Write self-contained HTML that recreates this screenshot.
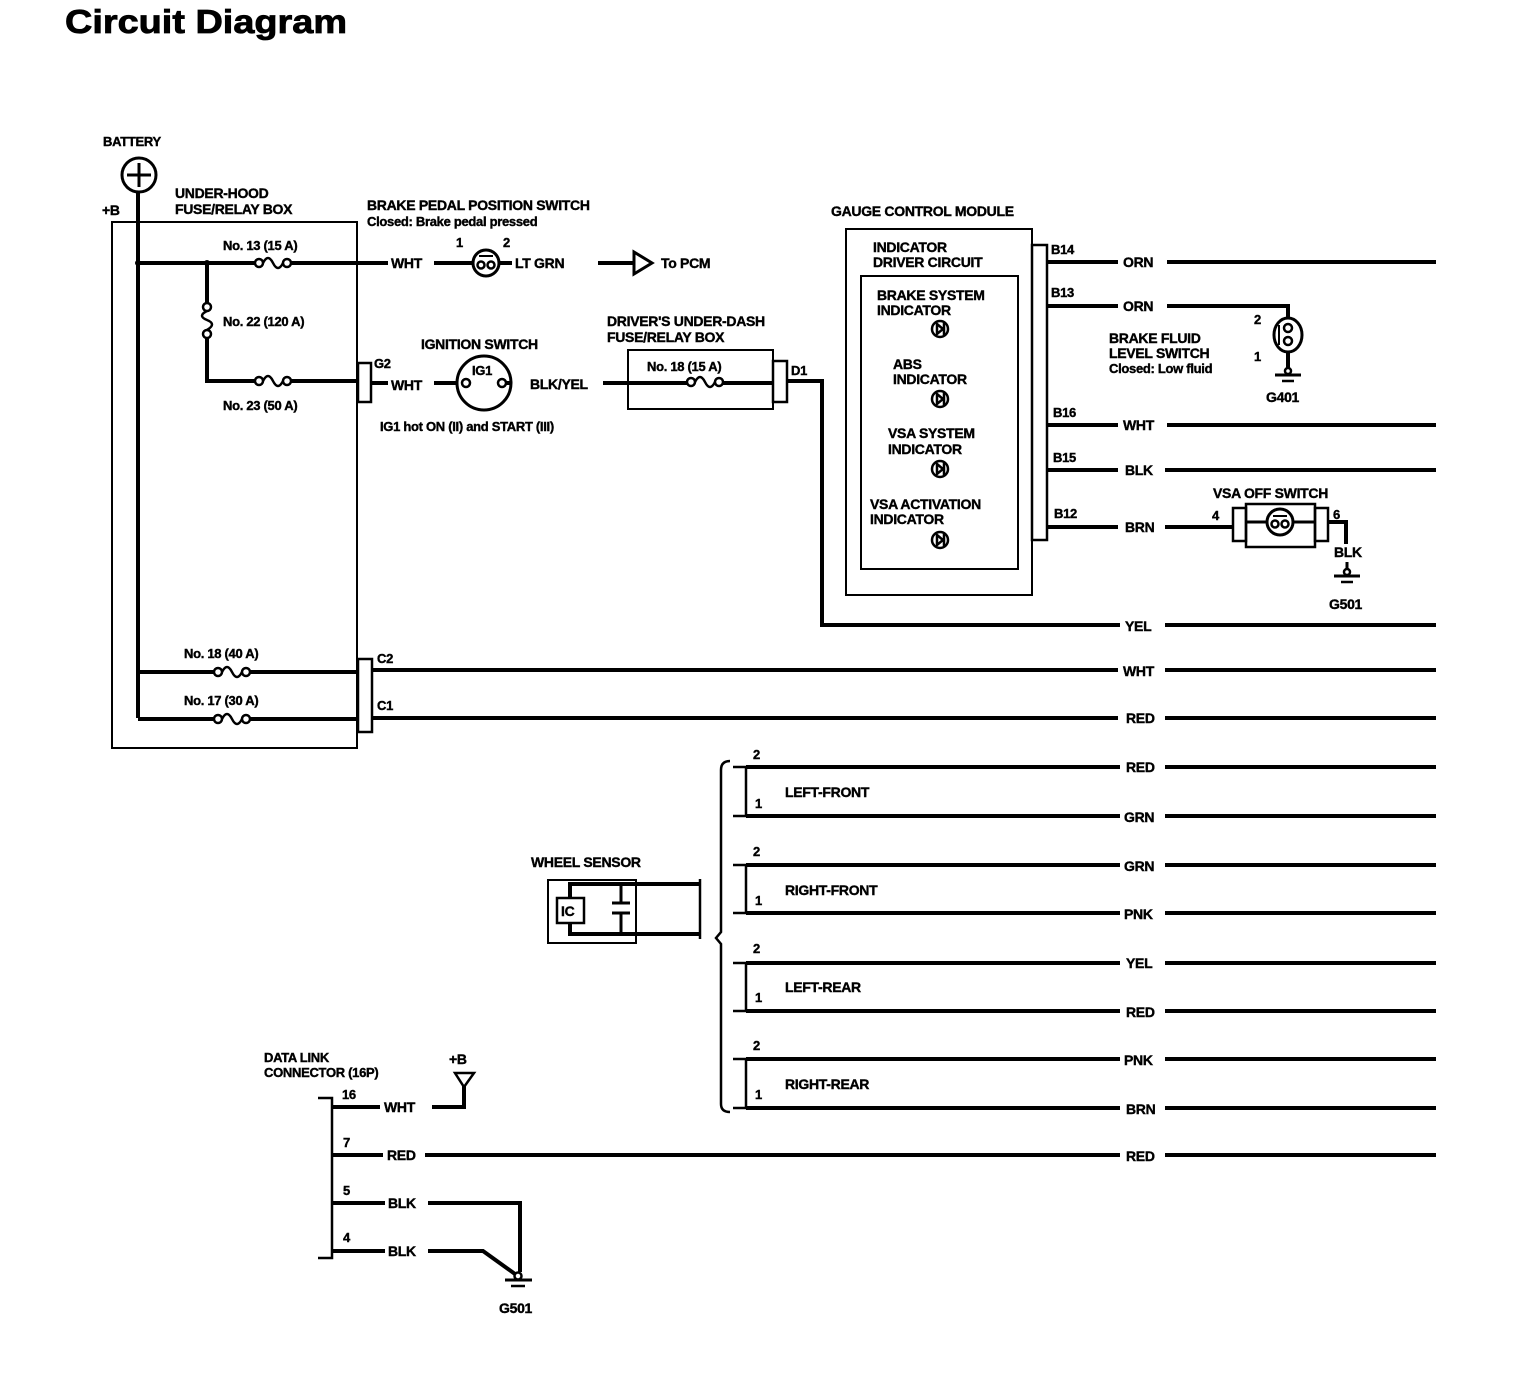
<!DOCTYPE html>
<html><head><meta charset="utf-8"><style>
html,body{margin:0;padding:0;background:#fff;}
svg{display:block;}
text{font-family:"Liberation Sans",sans-serif;font-weight:bold;fill:#000;stroke:#000;stroke-width:0.4px;}
.l{font-size:14px;letter-spacing:-0.3px;}
.s{font-size:13px;letter-spacing:-0.3px;}
</style></head><body>
<svg width="1536" height="1394" viewBox="0 0 1536 1394" xmlns="http://www.w3.org/2000/svg">
<text x="65" y="33" textLength="282" lengthAdjust="spacingAndGlyphs" style="font-size:33px;stroke-width:0.8px">Circuit Diagram</text>

<g fill="none" stroke="#000">
<circle cx="139" cy="175" r="17" stroke-width="3"/>
<line x1="139" y1="163" x2="139" y2="187" stroke-width="3"/>
<line x1="127" y1="175" x2="151" y2="175" stroke-width="3"/>
<line x1="138" y1="192" x2="138" y2="718" stroke-width="4"/>
<rect x="112" y="222" width="245" height="526" stroke-width="2"/>

<line x1="138" y1="263" x2="255" y2="263" stroke-width="4"/>
<line x1="291" y1="263" x2="388" y2="263" stroke-width="4"/>
<line x1="434" y1="263" x2="473" y2="263" stroke-width="4"/>
<line x1="499" y1="263" x2="512" y2="263" stroke-width="4"/>
<line x1="598" y1="263" x2="634" y2="263" stroke-width="4"/>
<polygon points="634,252 652,263 634,274" stroke-width="3" fill="#fff"/>
<circle cx="259" cy="263" r="4" stroke-width="2.5" fill="#fff"/>
<circle cx="287" cy="263" r="4" stroke-width="2.5" fill="#fff"/>
<path d="M263,263 Q268,253 273,263 T283,263" stroke-width="2.5"/>
<circle cx="486" cy="263" r="13" stroke-width="3" fill="#fff"/>
<circle cx="481" cy="265" r="3.5" stroke-width="2.5"/>
<circle cx="491" cy="265" r="3.5" stroke-width="2.5"/>
<line x1="479" y1="256" x2="493" y2="256" stroke-width="2"/>

<line x1="207" y1="263" x2="207" y2="303" stroke-width="4"/>
<line x1="207" y1="338" x2="207" y2="381" stroke-width="4"/>
<circle cx="207" cy="307" r="4" stroke-width="2.5" fill="#fff"/>
<circle cx="207" cy="334" r="4" stroke-width="2.5" fill="#fff"/>
<path d="M207,311 Q197,316 207,320 T207,330" stroke-width="2.5"/>
<circle cx="207" cy="263" r="2.5" fill="#000"/>
<circle cx="138" cy="263" r="2.5" fill="#000"/>

<line x1="205" y1="381" x2="255" y2="381" stroke-width="4"/>
<line x1="291" y1="381" x2="358" y2="381" stroke-width="4"/>
<circle cx="259" cy="381" r="4" stroke-width="2.5" fill="#fff"/>
<circle cx="287" cy="381" r="4" stroke-width="2.5" fill="#fff"/>
<path d="M263,381 Q268,371 273,381 T283,381" stroke-width="2.5"/>
<rect x="358" y="363" width="13" height="39" stroke-width="2.5" fill="#fff"/>
<line x1="371" y1="383" x2="388" y2="383" stroke-width="4"/>
<line x1="434" y1="383" x2="460" y2="383" stroke-width="4"/>
<circle cx="484" cy="383" r="27" stroke-width="3" fill="#fff"/>
<circle cx="466" cy="383" r="4" stroke-width="2.5"/>
<circle cx="502" cy="383" r="4" stroke-width="2.5"/>
<line x1="506" y1="383" x2="512" y2="383" stroke-width="4"/>
<line x1="603" y1="383" x2="773" y2="383" stroke-width="4"/>
<rect x="628" y="350" width="145" height="59" stroke-width="2"/>
<rect x="690" y="376" width="32" height="12" stroke="none" fill="#fff"/>
<circle cx="691" cy="382" r="4" stroke-width="2.5" fill="#fff"/>
<circle cx="719" cy="382" r="4" stroke-width="2.5" fill="#fff"/>
<path d="M695,382 Q700,372 705,382 T715,382" stroke-width="2.5"/>
<rect x="773" y="361" width="14" height="41" stroke-width="2.5" fill="#fff"/>
<polyline points="787,381 822,381 822,625 1120,625" stroke-width="4"/>
<line x1="1165" y1="625" x2="1436" y2="625" stroke-width="4"/>

<rect x="846" y="229" width="186" height="366" stroke-width="2"/>
<rect x="861" y="276" width="157" height="293" stroke-width="2"/>
<rect x="1032" y="245" width="15" height="295" stroke-width="2.5"/>
<g stroke-width="4">
<line x1="1047" y1="262" x2="1118" y2="262"/><line x1="1167" y1="262" x2="1436" y2="262"/>
<polyline points="1047,306 1118,306"/><polyline points="1167,306 1288,306 1288,322"/>
<line x1="1047" y1="425" x2="1118" y2="425"/><line x1="1167" y1="425" x2="1436" y2="425"/>
<line x1="1047" y1="470" x2="1118" y2="470"/><line x1="1165" y1="470" x2="1436" y2="470"/>
<line x1="1047" y1="527" x2="1118" y2="527"/><line x1="1165" y1="527" x2="1233" y2="527"/>
</g>
<g stroke-width="2.5">
<circle cx="940" cy="329" r="8"/><path d="M937,324 L943,329 L937,334 Z M944,323 L944,335"/>
<circle cx="940" cy="399" r="8"/><path d="M937,394 L943,399 L937,404 Z M944,393 L944,405"/>
<circle cx="940" cy="469" r="8"/><path d="M937,464 L943,469 L937,474 Z M944,463 L944,475"/>
<circle cx="940" cy="540" r="8"/><path d="M937,535 L943,540 L937,545 Z M944,534 L944,546"/>
</g>
<ellipse cx="1288" cy="335" rx="14" ry="17" stroke-width="3" fill="#fff"/>
<circle cx="1288" cy="328" r="4" stroke-width="2.5"/>
<circle cx="1288" cy="341" r="4" stroke-width="2.5"/>
<line x1="1279" y1="325" x2="1279" y2="345" stroke-width="2"/>
<line x1="1288" y1="352" x2="1288" y2="369" stroke-width="4"/>
<circle cx="1288" cy="371" r="3" stroke-width="2.5"/>
<line x1="1275" y1="375" x2="1301" y2="375" stroke-width="3"/>
<line x1="1282" y1="381" x2="1294" y2="381" stroke-width="2.5"/>
<rect x="1233" y="508" width="13" height="33" stroke-width="2.5"/>
<rect x="1246" y="504" width="69" height="43" stroke-width="2.5"/>
<rect x="1315" y="508" width="13" height="33" stroke-width="2.5"/>
<line x1="1246" y1="522" x2="1315" y2="522" stroke-width="3"/>
<circle cx="1280" cy="522" r="13" stroke-width="3" fill="#fff"/>
<circle cx="1275" cy="524" r="3.5" stroke-width="2.5"/>
<circle cx="1285" cy="524" r="3.5" stroke-width="2.5"/>
<line x1="1273" y1="516" x2="1287" y2="516" stroke-width="2"/>
<polyline points="1328,522 1346,522 1346,544" stroke-width="4"/>
<line x1="1347" y1="562" x2="1347" y2="570" stroke-width="3"/>
<circle cx="1347" cy="572" r="3" stroke-width="2.5"/>
<line x1="1334" y1="576" x2="1360" y2="576" stroke-width="3"/>
<line x1="1341" y1="582" x2="1353" y2="582" stroke-width="2.5"/>

<line x1="138" y1="672" x2="214" y2="672" stroke-width="4"/>
<line x1="250" y1="672" x2="358" y2="672" stroke-width="4"/>
<circle cx="218" cy="672" r="4" stroke-width="2.5" fill="#fff"/>
<circle cx="246" cy="672" r="4" stroke-width="2.5" fill="#fff"/>
<path d="M222,672 Q227,662 232,672 T242,672" stroke-width="2.5"/>
<line x1="138" y1="719" x2="214" y2="719" stroke-width="4"/>
<line x1="250" y1="719" x2="358" y2="719" stroke-width="4"/>
<circle cx="218" cy="719" r="4" stroke-width="2.5" fill="#fff"/>
<circle cx="246" cy="719" r="4" stroke-width="2.5" fill="#fff"/>
<path d="M222,719 Q227,709 232,719 T242,719" stroke-width="2.5"/>
<rect x="358" y="659" width="14" height="73" stroke-width="2.5" fill="#fff"/>
<line x1="372" y1="670" x2="1118" y2="670" stroke-width="4"/><line x1="1165" y1="670" x2="1436" y2="670" stroke-width="4"/>
<line x1="372" y1="718" x2="1118" y2="718" stroke-width="4"/><line x1="1165" y1="718" x2="1436" y2="718" stroke-width="4"/>

<rect x="548" y="880" width="88" height="63" stroke-width="2"/>
<rect x="557" y="898" width="27" height="25" stroke-width="2.5"/>
<polyline points="570,898 570,884 700,884" stroke-width="4"/>
<polyline points="570,923 570,934 700,934" stroke-width="4"/>
<line x1="700" y1="879" x2="700" y2="939" stroke-width="2.5"/>
<line x1="621" y1="884" x2="621" y2="903" stroke-width="3"/>
<line x1="612" y1="903" x2="630" y2="903" stroke-width="3"/>
<line x1="612" y1="913" x2="630" y2="913" stroke-width="3"/>
<line x1="621" y1="913" x2="621" y2="934" stroke-width="3"/>
<path d="M730,761 Q721,761 721,770 L721,932 L716,938 L721,944 L721,1104 Q721,1112 730,1112" stroke-width="2.5"/>
<g stroke-width="2.5">
<polyline points="733,767 746,767 746,816 733,816"/>
<polyline points="733,865 746,865 746,913 733,913"/>
<polyline points="733,963 746,963 746,1011 733,1011"/>
<polyline points="733,1059 746,1059 746,1108 733,1108"/>
</g>
<g stroke-width="4">
<line x1="746" y1="767" x2="1120" y2="767"/><line x1="1165" y1="767" x2="1436" y2="767"/>
<line x1="746" y1="816" x2="1120" y2="816"/><line x1="1165" y1="816" x2="1436" y2="816"/>
<line x1="746" y1="865" x2="1120" y2="865"/><line x1="1165" y1="865" x2="1436" y2="865"/>
<line x1="746" y1="913" x2="1120" y2="913"/><line x1="1165" y1="913" x2="1436" y2="913"/>
<line x1="746" y1="963" x2="1120" y2="963"/><line x1="1165" y1="963" x2="1436" y2="963"/>
<line x1="746" y1="1011" x2="1120" y2="1011"/><line x1="1165" y1="1011" x2="1436" y2="1011"/>
<line x1="746" y1="1059" x2="1120" y2="1059"/><line x1="1165" y1="1059" x2="1436" y2="1059"/>
<line x1="746" y1="1108" x2="1120" y2="1108"/><line x1="1165" y1="1108" x2="1436" y2="1108"/>
</g>

<polyline points="318,1098 332,1098 332,1258 318,1258" stroke-width="2.5"/>
<g stroke-width="4">
<line x1="332" y1="1107" x2="380" y2="1107"/><polyline points="432,1107 464,1107 464,1085"/>
<line x1="332" y1="1155" x2="383" y2="1155"/><line x1="425" y1="1155" x2="1120" y2="1155"/><line x1="1165" y1="1155" x2="1436" y2="1155"/>
<line x1="332" y1="1203" x2="385" y2="1203"/><polyline points="428,1203 520,1203 520,1272"/>
<line x1="332" y1="1251" x2="385" y2="1251"/><polyline points="428,1251 483,1251 515,1274"/>
</g>
<polygon points="455,1073 474,1073 464,1087" stroke-width="2.5"/>
<circle cx="518" cy="1276" r="3.5" stroke-width="2.5"/>
<line x1="505" y1="1280" x2="532" y2="1280" stroke-width="3"/>
<line x1="511" y1="1286" x2="525" y2="1286" stroke-width="2.5"/>
</g>

<text x="103" y="146" class="s">BATTERY</text>
<text x="102" y="215" class="l">+B</text>
<text x="175" y="198" class="l">UNDER-HOOD</text>
<text x="175" y="214" class="l">FUSE/RELAY BOX</text>
<text x="223" y="250" class="s">No. 13 (15 A)</text>
<text x="223" y="326" class="s">No. 22 (120 A)</text>
<text x="223" y="410" class="s">No. 23 (50 A)</text>
<text x="367" y="210" class="l">BRAKE PEDAL POSITION SWITCH</text>
<text x="367" y="226" class="s">Closed: Brake pedal pressed</text>
<text x="456" y="247" class="s">1</text>
<text x="503" y="247" class="s">2</text>
<text x="391" y="268" class="l">WHT</text>
<text x="515" y="268" class="l">LT GRN</text>
<text x="661" y="268" class="l">To PCM</text>
<text x="421" y="349" class="l">IGNITION SWITCH</text>
<text x="374" y="368" class="s">G2</text>
<text x="391" y="390" class="l">WHT</text>
<text x="472" y="375" class="s">IG1</text>
<text x="530" y="389" class="l">BLK/YEL</text>
<text x="380" y="431" class="s">IG1 hot ON (II) and START (III)</text>
<text x="607" y="326" class="l">DRIVER'S UNDER-DASH</text>
<text x="607" y="342" class="l">FUSE/RELAY BOX</text>
<text x="647" y="371" class="s">No. 18 (15 A)</text>
<text x="791" y="375" class="s">D1</text>
<text x="831" y="216" class="l">GAUGE CONTROL MODULE</text>
<text x="873" y="252" class="l">INDICATOR</text>
<text x="873" y="267" class="l">DRIVER CIRCUIT</text>
<text x="877" y="300" class="l">BRAKE SYSTEM</text>
<text x="877" y="315" class="l">INDICATOR</text>
<text x="893" y="369" class="l">ABS</text>
<text x="893" y="384" class="l">INDICATOR</text>
<text x="888" y="438" class="l">VSA SYSTEM</text>
<text x="888" y="454" class="l">INDICATOR</text>
<text x="870" y="509" class="l">VSA ACTIVATION</text>
<text x="870" y="524" class="l">INDICATOR</text>
<text x="1051" y="254" class="s">B14</text>
<text x="1051" y="297" class="s">B13</text>
<text x="1053" y="417" class="s">B16</text>
<text x="1053" y="462" class="s">B15</text>
<text x="1054" y="518" class="s">B12</text>
<text x="1123" y="267" class="l">ORN</text>
<text x="1123" y="311" class="l">ORN</text>
<text x="1123" y="430" class="l">WHT</text>
<text x="1125" y="475" class="l">BLK</text>
<text x="1125" y="532" class="l">BRN</text>
<text x="1125" y="631" class="l">YEL</text>
<text x="1109" y="343" class="l">BRAKE FLUID</text>
<text x="1109" y="358" class="l">LEVEL SWITCH</text>
<text x="1109" y="373" class="s">Closed: Low fluid</text>
<text x="1254" y="324" class="s">2</text>
<text x="1254" y="361" class="s">1</text>
<text x="1266" y="402" class="l">G401</text>
<text x="1213" y="498" class="l">VSA OFF SWITCH</text>
<text x="1212" y="520" class="s">4</text>
<text x="1333" y="519" class="s">6</text>
<text x="1334" y="557" class="l">BLK</text>
<text x="1329" y="609" class="l">G501</text>
<text x="184" y="658" class="s">No. 18 (40 A)</text>
<text x="184" y="705" class="s">No. 17 (30 A)</text>
<text x="377" y="663" class="s">C2</text>
<text x="377" y="710" class="s">C1</text>
<text x="1123" y="676" class="l">WHT</text>
<text x="1126" y="723" class="l">RED</text>
<text x="531" y="867" class="l">WHEEL SENSOR</text>
<text x="561" y="916" class="l">IC</text>
<text x="753" y="759" class="s">2</text>
<text x="755" y="808" class="s">1</text>
<text x="785" y="797" class="l">LEFT-FRONT</text>
<text x="753" y="856" class="s">2</text>
<text x="755" y="905" class="s">1</text>
<text x="785" y="895" class="l">RIGHT-FRONT</text>
<text x="753" y="953" class="s">2</text>
<text x="755" y="1002" class="s">1</text>
<text x="785" y="992" class="l">LEFT-REAR</text>
<text x="753" y="1050" class="s">2</text>
<text x="755" y="1099" class="s">1</text>
<text x="785" y="1089" class="l">RIGHT-REAR</text>
<text x="1126" y="772" class="l">RED</text>
<text x="1124" y="822" class="l">GRN</text>
<text x="1124" y="871" class="l">GRN</text>
<text x="1124" y="919" class="l">PNK</text>
<text x="1126" y="968" class="l">YEL</text>
<text x="1126" y="1017" class="l">RED</text>
<text x="1124" y="1065" class="l">PNK</text>
<text x="1126" y="1114" class="l">BRN</text>
<text x="1126" y="1161" class="l">RED</text>
<text x="264" y="1062" class="s">DATA LINK</text>
<text x="264" y="1077" class="s">CONNECTOR (16P)</text>
<text x="449" y="1064" class="l">+B</text>
<text x="342" y="1099" class="s">16</text>
<text x="384" y="1112" class="l">WHT</text>
<text x="343" y="1147" class="s">7</text>
<text x="387" y="1160" class="l">RED</text>
<text x="343" y="1195" class="s">5</text>
<text x="388" y="1208" class="l">BLK</text>
<text x="343" y="1242" class="s">4</text>
<text x="388" y="1256" class="l">BLK</text>
<text x="499" y="1313" class="l">G501</text>
</svg>
</body></html>
